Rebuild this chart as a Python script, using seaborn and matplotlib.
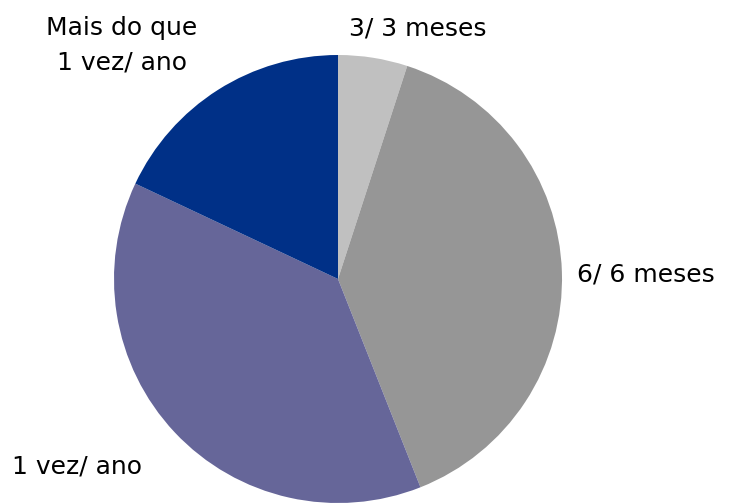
import matplotlib
matplotlib.use("Agg")
import matplotlib.pyplot as plt
import seaborn as sns

categories = ["3/ 3 meses", "6/ 6 meses", "1 vez/ ano", "Mais do que\n1 vez/ ano"]
values = [5, 39, 38, 18]
colors = ["#C0C0C0", "#969696", "#666699", "#003087"]

sns.set_theme(style="white")
plt.rcParams["font.family"] = ["DejaVu Sans"]

W, H = 737, 503
fig = plt.figure(figsize=(W / 100, H / 100), dpi=100)
cx, cy, r = 338, 279, 224
ax = fig.add_axes([(cx - r) / W, (H - cy - r) / H, 2 * r / W, 2 * r / H])
palette = sns.color_palette(colors)
ax.pie(values, colors=palette, startangle=90, counterclock=False, radius=1,
       wedgeprops=dict(linewidth=0))
ax.set_xlim(-1, 1)
ax.set_ylim(-1, 1)
ax.set_aspect("equal")
ax.axis("off")

label_pos = [(418, 28, "center"), (577, 274, "left"), (12, 467, "left"), (122, 45, "center")]
for lab, (x, y, ha) in zip(categories, label_pos):
    fig.text(x / W, 1 - y / H, lab, ha=ha, va="center", fontsize=18, color="black",
             linespacing=1.55)

fig.savefig("out.png", dpi=100)
